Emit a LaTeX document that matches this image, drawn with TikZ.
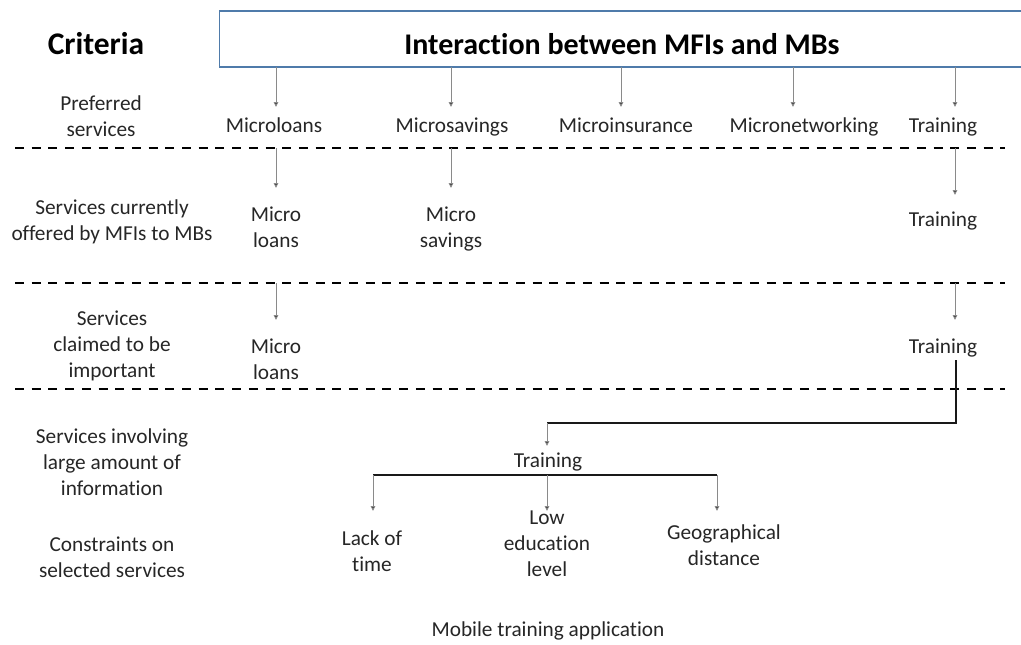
\documentclass[tikz,border=0pt]{standalone}
\usepackage{fontspec}
\setmainfont{Carlito}[Ligatures={NoCommon}]
\usetikzlibrary{arrows.meta}
\definecolor{boxblue}{HTML}{4F7BAA}
\definecolor{arrowgray}{HTML}{8A8A8A}
\begin{document}
\begin{tikzpicture}[x=1pt,y=-1pt,
  txt/.style={inner sep=0pt,align=center,font=\fontsize{21.3}{26}\selectfont,text=black!85,
    execute at begin node=\strut,execute at end node=\strut},
  head/.style={inner sep=0pt,align=center,font=\fontsize{30}{34}\selectfont\bfseries},
  feed/.style={draw=arrowgray,line width=0.9pt,-{Triangle[length=5pt,width=4.6pt,fill=black!80]}},
  sep/.style={line width=2.8pt,dash pattern=on 9pt off 7.7pt},
  link/.style={line width=1.8pt,black!90}]
\useasboundingbox (0,0) rectangle (1021,645);

% header box
\draw[boxblue,line width=1.6pt,fill=white] (219.5,11) rectangle (1030,67);
\node[head,font=\fontsize{31.5}{34}\selectfont\bfseries] (crit) at (96,44) {Criteria};
\node[head] (title) at (622,44) {Interaction between MFIs and MBs};

% row separators
\coordinate (s1l) at (15,148);  \coordinate (s1r) at (1005,148);
\coordinate (s2l) at (15,283);  \coordinate (s2r) at (1005,283);
\coordinate (s3l) at (15,389);  \coordinate (s3r) at (1005,389);
\draw[sep] (s1l) -- (s1r);
\draw[sep] (s2l) -- (s2r);
\draw[sep] (s3l) -- (s3r);

% criteria column
\node[txt] (c1) at (101,120) {Preferred\\services};
\node[txt] (c2) at (112,224) {Services currently\\offered by MFIs to MBs};
\node[txt] (c3) at (112,348) {Services\\claimed to be\\important};
\node[txt] (c4) at (112,466) {Services involving\\large amount of\\information};
\node[txt] (c5) at (112,561) {Constraints on\\selected services};

% preferred services
\node[txt] (p1) at (274,127) {Microloans};
\node[txt] (p2) at (452,127) {Microsavings};
\node[txt] (p3) at (626,127) {Microinsurance};
\node[txt] (p4) at (804,127) {Micronetworking};
\node[txt] (p5) at (943,127) {Training};
\foreach \n/\x in {p1/276,p2/451,p3/621,p4/793,p5/955}
  \draw[feed] (\x,67) -- (\x,107);

% currently offered
\node[txt] (o1) at (276,231) {Micro\\loans};
\node[txt] (o2) at (451,231) {Micro\\savings};
\node[txt] (o3) at (943,221) {Training};
\draw[feed] (276,148) -- (276,188);
\draw[feed] (451,148) -- (451,188);
\draw[feed] (955,148) -- (955,195);

% claimed important
\node[txt] (i1) at (276,363) {Micro\\loans};
\node[txt] (i2) at (943,348) {Training};
\draw[feed] (276,283) -- (276,320);
\draw[feed] (955,283) -- (955,320);

% large amount of information
\node[txt] (t) at (548,462) {Training};
\coordinate (e1) at (956,360);
\coordinate (e2) at (956,423);
\coordinate (e3) at (547,423);
\draw[link] (e1) -- (e2) -- (e3);
\draw[feed] (e3) -- (547,446);

% constraints
\coordinate (bl) at (373,475);
\coordinate (br) at (717,475);
\draw[link] (bl) -- (br);
\node[txt] (k1) at (372,555) {Lack of\\time};
\node[txt] (k2) at (547,548) {Low\\education\\level};
\node[txt] (k3) at (724,549) {Geographical\\distance};
\draw[feed] (bl) -- (373,511);
\draw[feed] (547,475) -- (547,511);
\draw[feed] (br) -- (717,511);

% outcome
\node[txt] (m) at (548,631) {Mobile training application};
\end{tikzpicture}
\end{document}
